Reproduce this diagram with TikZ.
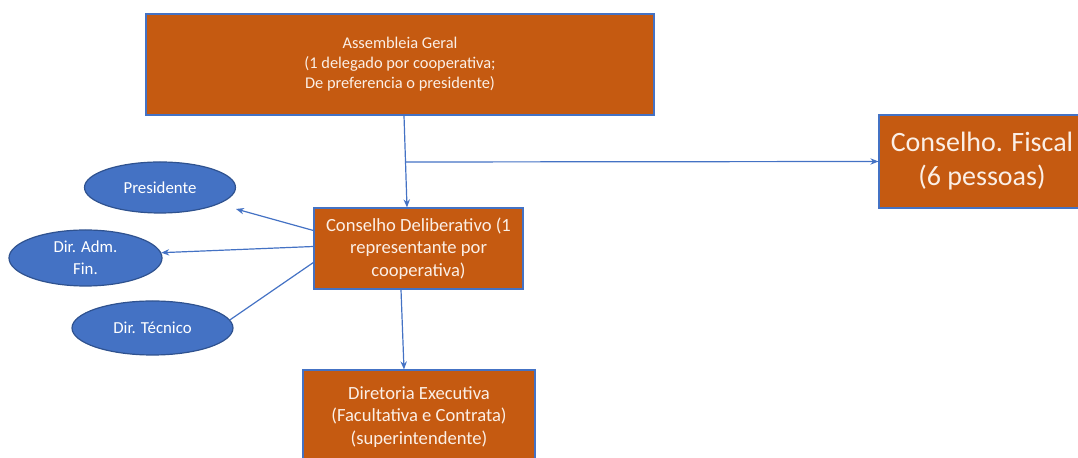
\documentclass[tikz,border=0pt]{standalone}
\usepackage{fontspec}
\setmainfont{Carlito}
\usetikzlibrary{shapes.geometric,arrows.meta}

\definecolor{boxorange}{HTML}{C55A11}
\definecolor{linkblue}{HTML}{4472C4}
\definecolor{ovalblue}{HTML}{4472C4}
\definecolor{ovalline}{HTML}{2F528F}
\definecolor{txtwhite}{HTML}{FBEFE6}

\begin{document}
\begin{tikzpicture}
        [
            x = 0.5pt, y = -0.5pt,
            orgbox/.style = {draw = linkblue, line width = 0.6pt, fill = boxorange,
                    text = txtwhite, align = center, inner sep = 0pt},
            role/.style = {ellipse, draw = ovalline, line width = 0.6pt, fill = ovalblue,
                    text = white, align = center, inner sep = 0pt,
                    font = \fontsize{8.4}{10.8}\selectfont},
            link/.style = {draw = linkblue, line width = 0.6pt},
            arr/.style = {link, -{Stealth[length = 4pt, width = 3.2pt]}},
        ]

        \useasboundingbox (0,0) rectangle (1078,458);
        \clip (0,0) rectangle (1078,458);

        % boxes
        \node[orgbox, minimum width = 254pt, minimum height = 50.5pt,
              font = \fontsize{8.2}{10}\selectfont] (assembleia) at (400,64.5)
              {Assembleia Geral\\(1 delegado por cooperativa;\\De preferencia o presidente)};
        \node[orgbox, minimum width = 103pt, minimum height = 46.5pt,
              font = \fontsize{14}{17}\selectfont] (fiscal) at (982,161.5)
              {Conselho. Fiscal\\(6 pessoas)};
        \node[orgbox, minimum width = 104.5pt, minimum height = 40.5pt,
              font = \fontsize{9.3}{11.3}\selectfont] (deliberativo) at (418.5,248.5)
              {Conselho Deliberativo (1\\representante por\\cooperativa)};
        \node[orgbox, minimum width = 116pt, minimum height = 47pt,
              font = \fontsize{9.3}{11.3}\selectfont] (diretoria) at (419,417)
              {Diretoria Executiva\\(Facultativa e Contrata)\\(superintendente)};

        % roles
        \node[role, minimum width = 75.5pt, minimum height = 25.5pt] (presidente) at (160,187.5) {Presidente};
        \node[role, minimum width = 76.5pt, minimum height = 28pt] (diradm) at (85.5,258) {Dir. Adm.\\Fin.};
        \node[role, minimum width = 80.5pt, minimum height = 27pt] (dirtec) at (152.5,328) {Dir. Técnico};

        % links
        \coordinate (branch) at (405,162);
        \coordinate (prestip) at ([xshift = 38pt, yshift = -10.75pt]presidente.center);
        \draw[arr] ([xshift = 2pt]assembleia.south) -- ([xshift = -5.75pt]deliberativo.north);
        \draw[arr] (branch) -- (fiscal.west);
        \draw[arr] ([yshift = 9pt]deliberativo.west) -- (prestip);
        \draw[arr] ([yshift = 1pt]deliberativo.west) -- (diradm.4);
        \draw[link] ([yshift = -7pt]deliberativo.west) -- (dirtec.6);
        \draw[arr] ([xshift = -8.75pt]deliberativo.south) -- ([xshift = -7.5pt]diretoria.north);

    \end{tikzpicture}
\end{document}
